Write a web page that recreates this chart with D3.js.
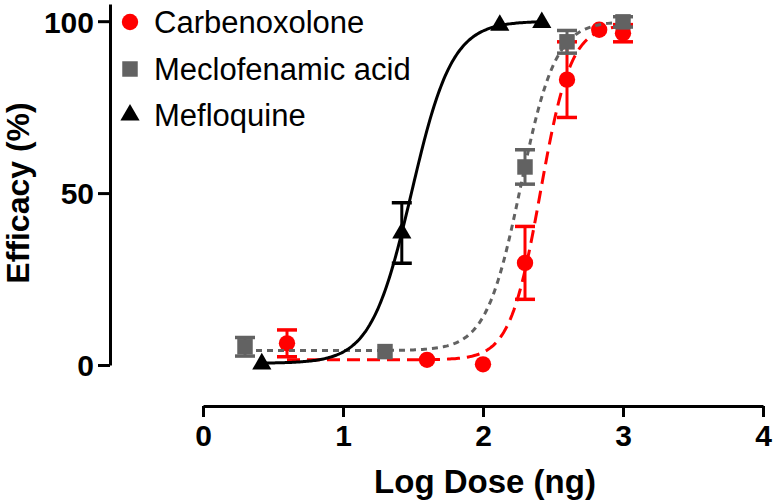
<!DOCTYPE html>
<html>
<head>
<meta charset="utf-8">
<script src="https://d3js.org/d3.v7.min.js"></script>
<style>
  body { margin: 0; background: #fff; }
  text { font-family: Arial, "Liberation Sans", sans-serif; }
</style>
</head>
<body>
<svg width="774" height="504"></svg>
<script>
// series names + colours
var seriesNames = ["Carbenoxolone", "Meclofenamic acid", "Mefloquine"];
var seriesColors = ["#ff0000", "#626262", "#000000"];

// Carbenoxolone (mean +/- sem)
var carbDose = [0.6, 1.6, 2.0, 2.3, 2.6, 2.83, 3.0];
var carbMean = [6.3, 1.5, 0.2, 29.7, 83, 97.5, 96.5];
var carbSem  = [3.9, 0, 0, 10.6, 11, 0, 2.5];

// Meclofenamic acid
var meclDose = [0.3, 1.3, 2.3, 2.6, 3.0];
var meclMean = [5.3, 3.9, 57.6, 94, 99.8];
var meclSem  = [2.7, 0, 5, 3.3, 1.5];

// Mefloquine
var meflDose = [0.42, 1.42, 2.12, 2.42];
var meflMean = [0.3, 38.4, 98.8, 99.6];
var meflSem  = [0, 8.8, 0, 0];

// fitted sigmoid params: bottom, top, logEC50, hill
var carbFit = [1.5, 99, 2.41, 4.0];
var meclFit = [4.2, 100, 2.27, 3.5];
var meflFit = [0.5, 100, 1.49, 3.0];

var xTicks = [0, 1, 2, 3, 4];
var yTicks = [0, 50, 100];

var svg = d3.select("svg");

var x = d3.scaleLinear().domain([0, 4]).range([203, 763]);
var y = d3.scaleLinear().domain([0, 105]).range([365, 4]);

// axes
var yAxis = svg.append("g")
    .attr("transform", "translate(110,0)")
    .call(d3.axisLeft(y).tickValues(yTicks).tickFormat(d3.format("d"))
      .tickSize(12).tickSizeOuter(0).tickPadding(4));
var xAxis = svg.append("g")
    .attr("transform", "translate(0,406)")
    .call(d3.axisBottom(x).tickValues(xTicks).tickFormat(d3.format("d"))
      .tickSize(11).tickSizeOuter(0).tickPadding(8));

[xAxis, yAxis].forEach(function(a) {
  a.selectAll("path, line").attr("stroke", "#000").attr("stroke-width", 3);
  a.selectAll("text")
    .attr("fill", "#000")
    .style("font-size", "30px")
    .style("font-weight", "bold");
});
yAxis.selectAll("text").attr("dy", "0.36em");

svg.append("text")
    .attr("transform", "translate(29,193) rotate(-90)")
    .attr("text-anchor", "middle")
    .style("font-size", "32px").style("font-weight", "bold")
    .text("Efficacy (%)");

svg.append("text")
    .attr("x", 485).attr("y", 493)
    .attr("text-anchor", "middle")
    .style("font-size", "33px").style("font-weight", "bold")
    .text("Log Dose (ng)");

function hill(p) {
  return function(v) { return p[0] + (p[1] - p[0]) / (1 + Math.pow(10, (p[2] - v) * p[3])); };
}

var series = [
  {dose: carbDose, mean: carbMean, sem: carbSem, fit: carbFit, dash: "13,7", sym: d3.symbolCircle, size: 210},
  {dose: meclDose, mean: meclMean, sem: meclSem, fit: meclFit, dash: "6,5", sym: d3.symbolSquare, size: 240},
  {dose: meflDose, mean: meflMean, sem: meflSem, fit: meflFit, dash: null, sym: d3.symbolTriangle, size: 160}
];

var line = d3.line().x(function(d) { return x(d[0]); }).y(function(d) { return y(d[1]); });

series.forEach(function(s, i) {
  var col = seriesColors[i];
  var f = hill(s.fit);
  var lo = d3.min(s.dose), hi = d3.max(s.dose);
  var pts = d3.range(0, 201).map(function(k) { var v = lo + (hi - lo) * k / 200; return [v, f(v)]; });
  var g = svg.append("g");
  g.append("path")
    .attr("d", line(pts))
    .attr("fill", "none")
    .attr("stroke", col)
    .attr("stroke-width", 3)
    .attr("stroke-dasharray", s.dash);

  s.dose.forEach(function(dv, j) {
    var cx = x(dv), m = s.mean[j], e = s.sem[j];
    if (e > 0) {
      var y1 = y(m + e), y2 = y(m - e);
      g.append("line").attr("x1", cx).attr("x2", cx).attr("y1", y1).attr("y2", y2)
        .attr("stroke", col).attr("stroke-width", 3);
      [y1, y2].forEach(function(yy) {
        g.append("line").attr("x1", cx - 10).attr("x2", cx + 10).attr("y1", yy).attr("y2", yy)
          .attr("stroke", col).attr("stroke-width", 3.5);
      });
    }
    g.append("path")
      .attr("d", d3.symbol().type(s.sym).size(s.size)())
      .attr("transform", "translate(" + cx + "," + y(m) + ")")
      .attr("fill", col);
  });
});

// legend
var legendY = [22, 69, 115];
seriesNames.forEach(function(n, i) {
  svg.append("path")
    .attr("d", d3.symbol().type(series[i].sym).size(series[i].size)())
    .attr("transform", "translate(130," + legendY[i] + ")")
    .attr("fill", seriesColors[i]);
  svg.append("text")
    .attr("x", 154).attr("y", legendY[i] + 11)
    .style("font-size", "31px")
    .text(n);
});
</script>
</body>
</html>
